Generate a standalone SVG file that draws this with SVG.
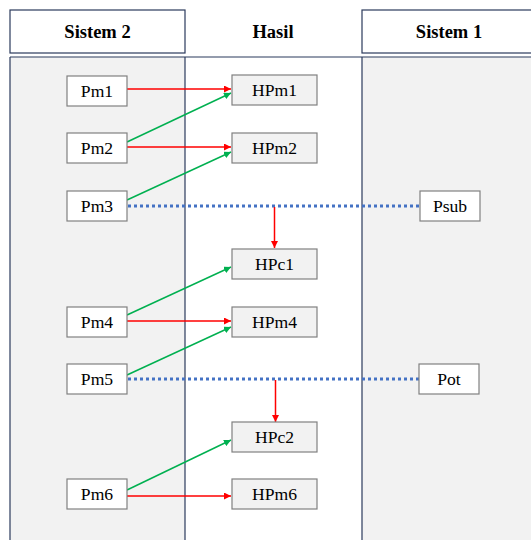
<svg xmlns="http://www.w3.org/2000/svg" width="531" height="540" viewBox="0 0 531 540">
<style>
.hdr{fill:#ffffff;stroke:#2b3a5c;stroke-width:1.2}
.lane{stroke:#2b3a5c;stroke-width:1.2}
.ht{font-family:"Liberation Serif",serif;font-weight:bold;font-size:18.5px;fill:#000;text-anchor:middle}
.pm rect{fill:#ffffff;stroke:#808080;stroke-width:1.2}
.hp rect{fill:#f2f2f2;stroke:#808080;stroke-width:1.2}
.nt{font-family:"Liberation Serif",serif;font-size:17.6px;fill:#000;text-anchor:middle}
.red{stroke:#ff0000;stroke-width:1.5;fill:none;marker-end:url(#ar)}
.grn{stroke:#00b050;stroke-width:1.5;fill:none;marker-end:url(#ag)}
.dot{stroke:#4472c4;stroke-width:3;fill:none;stroke-dasharray:3 3}
</style>
<defs>
<marker id="ar" viewBox="0 0 10 10" refX="10" refY="5" markerWidth="7" markerHeight="7" markerUnits="userSpaceOnUse" orient="auto"><path d="M0,0 L10,5 L0,10 z" fill="#ff0000"/></marker>
<marker id="ag" viewBox="0 0 10 10" refX="10" refY="5" markerWidth="7" markerHeight="7" markerUnits="userSpaceOnUse" orient="auto"><path d="M0,0 L10,5 L0,10 z" fill="#00b050"/></marker>
</defs>
<rect width="531" height="540" fill="#ffffff"/>
<g id="lanes">
<rect x="10" y="57" width="175" height="490" fill="#f2f2f2"/>
<rect x="362" y="57" width="175" height="490" fill="#f2f2f2"/>
<line class="lane" x1="10" y1="57" x2="531" y2="57"/>
<line class="lane" x1="10" y1="57" x2="10" y2="540"/>
<line class="lane" x1="185" y1="57" x2="185" y2="540"/>
<line class="lane" x1="362" y1="57" x2="362" y2="540"/>
</g>
<g id="header-sistem2"><rect class="hdr" x="10" y="10" width="175" height="43"/><text class="ht" x="97.5" y="38">Sistem 2</text></g>
<g id="header-hasil"><text class="ht" x="273" y="38">Hasil</text></g>
<g id="header-sistem1"><rect class="hdr" x="362" y="10" width="175" height="43"/><text class="ht" x="449" y="38">Sistem 1</text></g>
<g id="connectors">
<line class="red" x1="127" y1="89" x2="231" y2="89"/>
<line class="grn" x1="127" y1="142" x2="231" y2="93"/>
<line class="red" x1="127" y1="147" x2="231" y2="147"/>
<line class="grn" x1="127" y1="200" x2="231" y2="152"/>
<line class="dot" x1="128" y1="206" x2="420" y2="206"/>
<line class="red" x1="274.5" y1="207" x2="274.5" y2="248"/>
<line class="grn" x1="127" y1="315" x2="231" y2="267"/>
<line class="red" x1="127" y1="321" x2="231" y2="321"/>
<line class="grn" x1="127" y1="375" x2="231" y2="327"/>
<line class="dot" x1="128" y1="379" x2="419" y2="379"/>
<line class="red" x1="275.5" y1="380" x2="275.5" y2="422"/>
<line class="grn" x1="127" y1="490" x2="231" y2="440"/>
<line class="red" x1="127" y1="496" x2="231" y2="496"/>
</g>
<g id="Pm1" class="pm"><rect x="67" y="76" width="60" height="30"/><text class="nt" x="97" y="97">Pm1</text></g>
<g id="Pm2" class="pm"><rect x="67" y="133" width="60" height="30"/><text class="nt" x="97" y="154">Pm2</text></g>
<g id="Pm3" class="pm"><rect x="67" y="191" width="60" height="30"/><text class="nt" x="97" y="212">Pm3</text></g>
<g id="Pm4" class="pm"><rect x="67" y="307" width="60" height="30"/><text class="nt" x="97" y="328">Pm4</text></g>
<g id="Pm5" class="pm"><rect x="67" y="364" width="60" height="30"/><text class="nt" x="97" y="385">Pm5</text></g>
<g id="Pm6" class="pm"><rect x="67" y="479" width="60" height="30"/><text class="nt" x="97" y="500">Pm6</text></g>
<g id="HPm1" class="hp"><rect x="232" y="75" width="85" height="30"/><text class="nt" x="274.5" y="96">HPm1</text></g>
<g id="HPm2" class="hp"><rect x="232" y="133" width="85" height="30"/><text class="nt" x="274.5" y="154">HPm2</text></g>
<g id="HPc1" class="hp"><rect x="232" y="249" width="85" height="30"/><text class="nt" x="274.5" y="270">HPc1</text></g>
<g id="HPm4" class="hp"><rect x="232" y="307" width="85" height="30"/><text class="nt" x="274.5" y="328">HPm4</text></g>
<g id="HPc2" class="hp"><rect x="232" y="422" width="85" height="30"/><text class="nt" x="274.5" y="443">HPc2</text></g>
<g id="HPm6" class="hp"><rect x="232" y="479" width="85" height="30"/><text class="nt" x="274.5" y="500">HPm6</text></g>
<g id="Psub" class="pm"><rect x="420" y="191" width="60" height="30"/><text class="nt" x="450" y="212">Psub</text></g>
<g id="Pot" class="pm"><rect x="419" y="364" width="60" height="30"/><text class="nt" x="449" y="385">Pot</text></g>
</svg>
